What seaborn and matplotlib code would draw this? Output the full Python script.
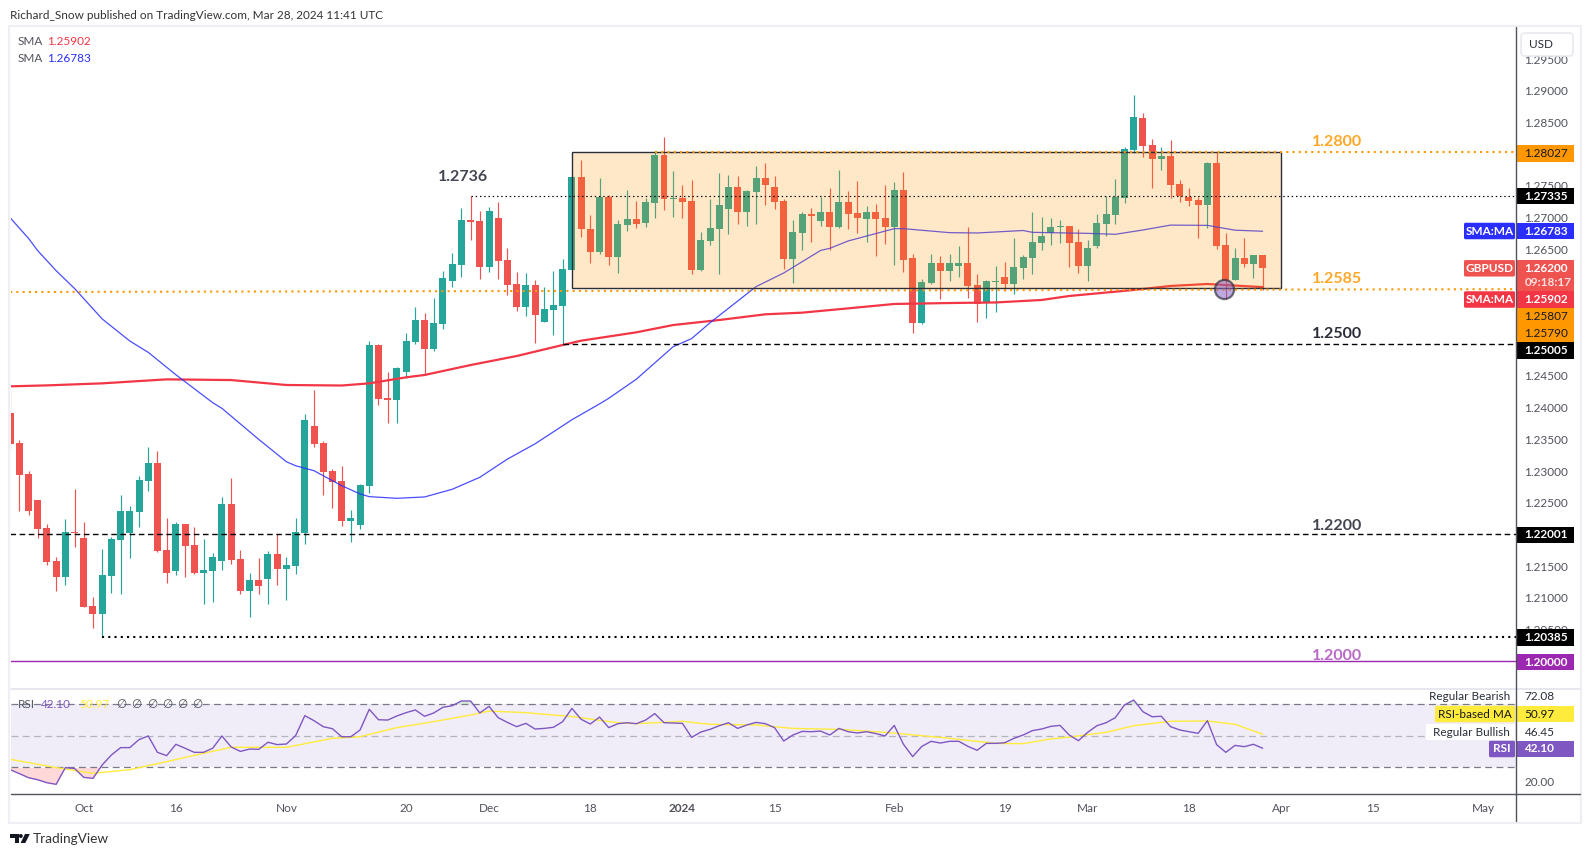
import numpy as np
import pandas as pd
import matplotlib
matplotlib.use("Agg")
import matplotlib.pyplot as plt
from matplotlib.patches import Rectangle, FancyBboxPatch, Polygon, Circle
import seaborn as sns

sns.set_theme(style="white")
plt.rcParams['font.family'] = ['Lato', 'DejaVu Sans']

# ---------------- data ----------------
first_bar = -1
opens = [
 1.23916,1.23443,1.22954,1.22544,1.22102,1.21581,1.21329,1.22039,1.21944,1.20872,
 1.20745,1.21345,1.21913,1.22023,1.22354,1.22843,1.23127,1.21755,1.21424,1.22165,
 1.21834,1.21392,1.21424,1.21581,1.22481,1.21613,1.21108,1.21282,1.21297,1.21692,
 1.21455,1.21503,1.22023,1.23711,1.23443,1.23001,1.22843,1.22212,1.22149,1.22764,
 1.24989,1.24153,1.24121,1.24563,1.25036,1.25383,1.24926,1.25320,1.25998,1.26251,
 1.26961,1.26945,1.26219,1.26992,1.26330,1.25951,1.25588,1.25935,1.25352,1.25541,
 1.25604,1.26172,1.27639,1.26819,1.26456,1.27323,1.26377,1.26882,1.26976,1.26913,
 1.27229,1.27986,1.27292,1.27308,1.27260,1.26172,1.26629,1.26819,1.27134,1.27481,
 1.27087,1.27402,1.27623,1.27481,1.27260,1.26345,1.26756,1.27055,1.26945,1.27087,
 1.26850,1.27245,1.27071,1.26976,1.27087,1.26992,1.26850,1.27434,1.26361,1.25336,
 1.25967,1.26282,1.26156,1.26235,1.26282,1.25935,1.25651,1.25983,1.26061,1.25951,
 1.26203,1.26361,1.26598,1.26756,1.26850,1.26866,1.26614,1.26235,1.26551,1.26898,
 1.27040,1.27308,1.28065,1.28570,1.28144,1.27923,1.27970,1.27529,1.27323,1.27276,
 1.27197,1.27860,1.26566,1.26014,1.26361,1.26267,1.26409]
closes = [
 1.23427,1.22938,1.22370,1.22086,1.21566,1.21329,1.22039,1.22023,1.20856,1.20745,
 1.21361,1.21928,1.22370,1.22370,1.22859,1.23127,1.21739,1.21392,1.22165,1.21818,
 1.21392,1.21439,1.21645,1.22481,1.21597,1.21108,1.21282,1.21187,1.21692,1.21455,
 1.21518,1.22039,1.23806,1.23427,1.22985,1.22828,1.22212,1.22260,1.22780,1.24989,
 1.24137,1.24121,1.24626,1.25052,1.25383,1.24926,1.25336,1.26046,1.26267,1.26961,
 1.26929,1.26219,1.27103,1.26314,1.25935,1.25588,1.25935,1.25462,1.25557,1.25620,
 1.26188,1.27639,1.26819,1.26456,1.27323,1.26377,1.26898,1.26976,1.26898,1.27245,
 1.27986,1.27292,1.27308,1.27245,1.26172,1.26645,1.26834,1.27197,1.27481,1.27087,
 1.27418,1.27623,1.27513,1.27245,1.26345,1.26771,1.27055,1.27024,1.27087,1.26850,
 1.27245,1.27055,1.26992,1.27087,1.26976,1.26850,1.27434,1.26330,1.25336,1.25983,
 1.26282,1.26156,1.26282,1.26282,1.25920,1.25636,1.25998,1.25998,1.25951,1.26219,
 1.26377,1.26614,1.26708,1.26850,1.26866,1.26598,1.26235,1.26519,1.26913,1.27055,
 1.27323,1.28081,1.28585,1.28128,1.27923,1.27970,1.27513,1.27339,1.27260,1.27197,
 1.27860,1.26551,1.25998,1.26361,1.26267,1.26409,1.26200]
highs = [
 1.24250,1.23490,1.23001,1.22544,1.22165,1.21645,1.22244,1.22717,1.22197,1.21014,
 1.21771,1.21960,1.22623,1.22449,1.22922,1.23380,1.23317,1.22260,1.22197,1.22165,
 1.22118,1.21928,1.21708,1.22591,1.22891,1.21755,1.21392,1.21629,1.21739,1.22002,
 1.21645,1.22260,1.23900,1.24279,1.23474,1.23033,1.23080,1.22386,1.22796,1.25052,
 1.25005,1.24563,1.24642,1.25178,1.25588,1.25494,1.25730,1.26156,1.26440,1.27150,
 1.27334,1.27103,1.27166,1.27245,1.26519,1.26140,1.26125,1.26014,1.25904,1.26156,
 1.26345,1.27639,1.27907,1.27039,1.27623,1.27355,1.26961,1.27434,1.27260,1.27308,
 1.28028,1.28270,1.27734,1.27513,1.27592,1.26771,1.27292,1.27702,1.27670,1.27655,
 1.27434,1.27812,1.27860,1.27655,1.27292,1.26961,1.27087,1.27150,1.27323,1.27465,
 1.27749,1.27418,1.27576,1.27181,1.27213,1.27513,1.27560,1.27718,1.26424,1.26030,
 1.26424,1.26393,1.26424,1.26550,1.26850,1.26109,1.26014,1.26235,1.26298,1.26677,
 1.26409,1.27087,1.27008,1.26992,1.26961,1.26866,1.26819,1.26645,1.27055,1.27339,
 1.27607,1.28112,1.28932,1.28648,1.28238,1.28112,1.28223,1.27592,1.27465,1.27323,
 1.27876,1.28028,1.26756,1.26519,1.26677,1.26409,1.26409]
lows = [
 1.23322,1.22370,1.22307,1.21944,1.21518,1.21108,1.21203,1.21802,1.20856,1.20525,
 1.20383,1.21077,1.21061,1.21629,1.22118,1.22686,1.21723,1.21234,1.21361,1.21329,
 1.21376,1.20903,1.20935,1.21439,1.21534,1.21061,1.20698,1.21061,1.20903,1.21203,
 1.20966,1.21376,1.21850,1.23380,1.22623,1.22417,1.22134,1.21881,1.22086,1.22654,
 1.24047,1.23763,1.23754,1.24474,1.25005,1.24516,1.24894,1.25241,1.25904,1.26061,
 1.26645,1.26030,1.26140,1.26030,1.25778,1.25525,1.25446,1.25020,1.25352,1.25147,
 1.24989,1.26172,1.26692,1.26282,1.26424,1.26251,1.26125,1.26787,1.26834,1.26850,
 1.26992,1.27118,1.27008,1.26992,1.26109,1.26156,1.26566,1.26109,1.26740,1.26898,
 1.26866,1.26898,1.27197,1.27134,1.26188,1.25967,1.26487,1.26614,1.26866,1.26487,
 1.26834,1.26819,1.26756,1.26614,1.26393,1.26582,1.26251,1.26140,1.25178,1.25320,
 1.25951,1.25714,1.25998,1.26061,1.25730,1.25352,1.25415,1.25509,1.25841,1.25793,
 1.26030,1.26109,1.26487,1.26566,1.26598,1.26219,1.26125,1.25998,1.26519,1.26708,
 1.26898,1.27229,1.28018,1.27954,1.27465,1.27749,1.27308,1.27245,1.27181,1.26677,
 1.26834,1.26503,1.25714,1.26014,1.26219,1.26046,1.25856]

sma200_bars = [-1,3,9,16,23,29,35,38,42,44,49,54,59,61,67,71,76,81,85,90,95,101,106,111,114,121,125,129,135]
sma200_vals = [1.24337,1.24352,1.24384,1.24447,1.24436,1.24358,1.24350,1.24384,1.24479,1.24516,1.24673,
               1.24815,1.24989,1.25057,1.25189,1.25304,1.25383,1.25473,1.25499,1.25567,1.25636,1.25651,
               1.25660,1.25699,1.25762,1.25857,1.25920,1.25951,1.25902]
sma50_bars = [-1,1,2,4,6,9,12,14,17,21,22,26,29,30,32,35,37,38,41,44,47,50,53,56,60,63,64,67,71,73,75,
              80,83,87,88,90,92,95,96,101,104,109,110,116,119,122,125,129,132,135]
sma50_vals = [1.26997,1.26671,1.26477,1.26161,1.25880,1.25400,1.25052,1.24873,1.24520,1.24079,1.23990,
              1.23500,1.23148,1.23085,1.23006,1.22770,1.22640,1.22597,1.22571,1.22592,1.22713,1.22902,
              1.23190,1.23430,1.23810,1.24060,1.24148,1.24450,1.24963,1.25090,1.25340,1.25910,1.26125,
              1.26480,1.26514,1.26630,1.26708,1.26824,1.26824,1.26761,1.26756,1.26795,1.26766,1.26750,
              1.26735,1.26803,1.26880,1.26876,1.26800,1.26783]

rsi_vals = [
 28.5,26.0,23.4,22.1,20.2,19.2,29.8,29.2,23.6,23.0,
 31.5,37.8,42.5,42.5,47.6,49.9,39.5,37.4,44.6,42.1,
 39.5,39.5,42.1,49.9,42.9,40.1,41.6,41.4,45.9,44.4,
 44.8,50.1,62.8,59.6,55.8,54.5,49.4,49.4,53.7,66.8,
 60.2,60.0,62.6,64.7,66.4,62.4,64.5,68.1,69.1,72.1,
 72.1,64.5,68.7,61.5,58.5,55.8,57.9,54.3,54.7,55.4,
 59.0,67.4,60.5,57.5,61.9,55.2,57.7,58.3,57.7,60.0,
 64.1,58.3,58.1,57.9,49.0,52.4,54.1,56.4,58.3,54.7,
 56.9,58.5,57.7,55.2,46.7,50.5,52.8,52.6,53.0,50.5,
 54.7,52.6,51.8,52.6,51.4,49.9,56.6,44.6,36.8,43.3,
 46.5,45.4,46.5,46.5,43.3,40.8,45.2,45.2,45.6,48.4,
 50.5,53.3,54.3,56.0,56.6,50.5,46.9,52.2,56.4,58.3,
 61.5,69.6,72.7,65.3,62.1,62.4,55.8,53.7,52.6,51.6,
 59.6,44.4,39.5,43.9,43.1,44.6,42.1]
rsi_ma_bars = [-1,4,8,12,16,20,23,29,34,37,41,45,49,51,55,60,65,67,72,75,80,84,89,94,100,106,109,112,114,118,121,125,129,132,135]
rsi_ma_vals = [35.1,29.8,26.2,28.5,33.6,38.9,42.7,42.7,48.4,49.4,55.2,59.0,63.2,65.7,64.7,62.2,58.3,57.7,
               59.2,57.3,56.9,54.7,54.1,52.2,49.0,45.2,45.0,48.0,49.2,52.2,56.4,59.2,59.4,57.3,50.97]

box_bars = [60, 137]
box_prices = [1.25885, 1.28027]
res_1280 = (69, 1.28027)
res_1273 = (49, 1.27335)
sup_1250 = (59, 1.25005)
sup_1220 = (-1, 1.22001)
sup_1203 = (9, 1.20385)
sup_1200 = (-1, 1.20000)
sup_1258 = ([-1, 163], [1.25825, 1.25870])
touch_point = (130.8, 1.25870)

price_ticks = [1.205,1.21,1.215,1.225,1.23,1.235,1.24,1.245,1.265,1.27,1.275,1.285,1.29,1.295]
time_bars = [7,17,29,42,51,62,72,82,95,107,116,127,137,147,159]
time_labels = ['Oct','16','Nov','20','Dec','18','2024','15','Feb','19','Mar','18','Apr','15','May']

UP, DOWN = '#26a69a', '#ef5350'
ORANGE = '#ff9800'
BLUE = '#2a2eff'
RED = '#f23645'
PURPLE = '#7e57c2'
YELLOW = '#ffeb3b'
TXT = '#50535e'
DARK = '#2a2e39'
FS = 8.5

# ---------------- layout ----------------
W, H = 1590, 857
fig = plt.figure(figsize=(W/100, H/100), dpi=100, facecolor='white')
L, R, T, MID, BOT = 10.5, 1516.0, 27.0, 689.3, 794.3
ax = fig.add_axes([L/W, 1-MID/H, (R-L)/W, (MID-T)/H])
rx = fig.add_axes([L/W, 1-BOT/H, (R-L)/W, (BOT-MID)/H], sharex=ax)

bars = np.arange(first_bar, first_bar+len(opens))
o, h, l, c = map(np.array, (opens, highs, lows, closes))
cols = np.where(c >= o, UP, DOWN)

# candles
ax.vlines(bars, l, h, colors=cols, linewidth=0.85, zorder=2)
ax.bar(bars, np.abs(c-o), bottom=np.minimum(o, c), width=0.76, color=cols, linewidth=0, zorder=2)

# moving averages
sns.lineplot(x=sma200_bars, y=sma200_vals, ax=ax, color=RED, linewidth=1.6, zorder=2.5)
sns.lineplot(x=sma50_bars, y=sma50_vals, ax=ax, color=BLUE, linewidth=0.9, alpha=0.85, zorder=2.5)

# range box
ax.add_patch(Rectangle((box_bars[0], box_prices[0]), box_bars[1]-box_bars[0], box_prices[1]-box_prices[0],
                       facecolor=(1, 0.596, 0, 0.22), edgecolor=DARK, linewidth=1.0, zorder=3))

# levels
xr = 163
ax.plot([res_1280[0], xr], [res_1280[1]]*2, color=ORANGE, lw=1.5, ls=(0, (1, 2)), zorder=4)
ax.plot([res_1273[0], xr], [res_1273[1]]*2, color='black', lw=0.85, ls=(0, (1.2, 2.4)), zorder=4)
ax.plot(sup_1258[0], sup_1258[1], color=ORANGE, lw=1.5, ls=(0, (1, 2)), zorder=4)
ax.plot([sup_1250[0], xr], [sup_1250[1]]*2, color='black', lw=1.0, ls=(0, (4, 2.6)), zorder=4)
ax.plot([sup_1220[0], xr], [sup_1220[1]]*2, color='black', lw=1.0, ls=(0, (4, 2.6)), zorder=4)
ax.plot([sup_1203[0], xr], [sup_1203[1]]*2, color='black', lw=1.5, ls=(0, (1, 2)), zorder=4)
ax.plot([sup_1200[0], xr], [sup_1200[1]]*2, color='#9c27b0', lw=1.0, zorder=4)
ax.scatter([touch_point[0]], [touch_point[1]], s=190, facecolor=(0.49, 0.34, 0.76, 0.5),
           edgecolor=(0.2, 0.2, 0.25, 0.7), linewidth=1.6, zorder=5)

ax.set_xlim((L-19.3)/9.21, (R-19.3)/9.21)
ax.set_ylim(1.2+(661.3-MID)/6340, 1.2+(661.3-T)/6340)
ax.set_yticks(price_ticks)
ax.set_yticklabels([f'{p:.5f}' for p in price_ticks])
ax.yaxis.tick_right()
ax.tick_params(axis='y', length=0, pad=5.8, labelsize=FS, labelcolor=TXT)
ax.tick_params(axis='x', length=0, labelbottom=False)
for s in ax.spines.values():
    s.set_visible(False)

# RSI pane
rsi = np.array(rsi_vals)
rx.axhspan(30, 70, color=PURPLE, alpha=0.1, linewidth=0, zorder=1)
rx.fill_between(bars, rsi, 30, where=rsi < 30, interpolate=True, color='#ff5252', alpha=0.22, linewidth=0, zorder=1.5)
rx.fill_between(bars, rsi, 70, where=rsi > 70, interpolate=True, color='#4caf50', alpha=0.22, linewidth=0, zorder=1.5)
for lev, col in ((70, '#787b86'), (50, '#b2b5be'), (30, '#787b86')):
    rx.axhline(lev, color=col, lw=0.9, ls=(0, (5.5, 3.5)), zorder=2)
sns.lineplot(x=rsi_ma_bars, y=rsi_ma_vals, ax=rx, color=YELLOW, linewidth=1.0, zorder=3)
sns.lineplot(x=bars, y=rsi, ax=rx, color=PURPLE, linewidth=1.0, zorder=4)
rx.set_ylim(70-(BOT-704.3)/1.575, 70+(704.3-MID)/1.575)
rx.set_yticks([])
rx.set_xticks(time_bars)
rx.set_xticklabels(time_labels)
rx.tick_params(axis='x', length=0, pad=6, labelsize=FS, labelcolor=TXT)
for t in rx.get_xticklabels():
    if t.get_text() == '2024':
        t.set_fontweight('bold')
for s in rx.spines.values():
    s.set_visible(False)

# ---------------- chrome, tags and text (figure pixels) ----------------
ov = fig.add_axes([0, 0, 1, 1], zorder=10)
ov.set_xlim(0, W); ov.set_ylim(H, 0); ov.axis('off')
ov.patch.set_alpha(0)

FRAME = '#eeeef4'
ov.add_patch(Rectangle((9, 25.5), 1572, 797, fill=False, edgecolor=FRAME, linewidth=1.6))
ov.plot([L, 1580], [MID, MID], color='#e3e3ec', lw=1.2)
ov.plot([L, 1580], [BOT, BOT], color=TXT, lw=1.0)
ov.plot([R, R], [27, 821], color=TXT, lw=1.0)

ov.add_patch(FancyBboxPatch((1521, 33), 52, 23, boxstyle='round,pad=0,rounding_size=4',
                            facecolor='white', edgecolor='#e8e8ef', linewidth=1.2))
ov.text(1529, 44.5, 'USD', fontsize=FS, color=DARK, va='center', ha='left')


def tag(yc, text, bg, fg='white', weight='bold', h=16.5):
    ov.add_patch(Rectangle((R+0.5, yc-h/2), 57, h, facecolor=bg, edgecolor='none'))
    ov.text(1524.5, yc, text, color=fg, fontsize=FS, fontweight=weight, va='center', ha='left')


def side(yc, text, bg, fg='white', x0=1464, weight='bold', h=16.5):
    ov.add_patch(FancyBboxPatch((x0, yc-h/2), 1515-x0, h, boxstyle='round,pad=0,rounding_size=1.5',
                                facecolor=bg, edgecolor='none'))
    ov.text((x0+1515)/2, yc, text, color=fg, fontsize=FS, fontweight=weight, va='center', ha='center')


tag(153.3, '1.28027', ORANGE, fg='#131722', weight='normal')
tag(196, '1.27335', 'black')
tag(231, '1.26783', BLUE)
side(231, 'SMA:MA', BLUE)
ov.add_patch(Rectangle((R+0.5, 260), 57, 31, facecolor=DOWN, edgecolor='none'))
ov.text(1524.5, 268.3, '1.26200', color='white', fontsize=FS, fontweight='bold', va='center')
ov.text(1524.5, 282, '09:18:17', color='#fde0df', fontsize=FS, fontweight='bold', va='center')
side(268.3, 'GBPUSD', DOWN)
tag(299.5, '1.25902', RED)
side(299.5, 'SMA:MA', RED)
tag(316.2, '1.25807', ORANGE, fg='#131722', weight='normal', h=17)
tag(333.4, '1.25790', ORANGE, fg='#131722', weight='normal', h=17)
tag(350.5, '1.25005', 'black')
tag(535, '1.22001', 'black')
tag(637.5, '1.20385', 'black')
tag(662, '1.20000', '#9c27b0')

# RSI side labels
ov.text(1524.5, 697, '72.08', color=DARK, fontsize=FS, va='center')
tag(714, '50.97', YELLOW, fg='#131722', weight='normal')
ov.text(1524.5, 732, '46.45', color=DARK, fontsize=FS, va='center')
tag(749, '42.10', PURPLE)
ov.text(1524.5, 782, '20.00', color=TXT, fontsize=FS, va='center')
ov.text(1510, 697, 'Regular Bearish', color=DARK, fontsize=FS, va='center', ha='right')
side(714, 'RSI-based MA', YELLOW, fg='#131722', x0=1435, weight='normal')
ov.add_patch(Rectangle((1426, 723.5), 89, 16.5, facecolor='white', edgecolor='none'))
ov.text(1510, 732, 'Regular Bullish', color=DARK, fontsize=FS, va='center', ha='right')
side(749, 'RSI', PURPLE, x0=1489)

# annotations on the chart
big = dict(fontsize=11.5, fontweight='bold', va='center', ha='left')
ov.text(437.5, 177, '1.2736', color='#434651', **big)
ov.text(1311.5, 142, '1.2800', color='#ffa726', **big)
ov.text(1311.5, 279, '1.2585', color='#ffa726', **big)
ov.text(1311.5, 334, '1.2500', color='#2a2e39', **big)
ov.text(1311.5, 525.5, '1.2200', color='#434651', **big)
ov.text(1311.5, 655.5, '1.2000', color='#ba68c8', **big)

# header and legends
ov.text(10, 15, 'Richard_Snow published on TradingView.com, Mar 28, 2024 11:41 UTC',
        color='#333333', fontsize=FS, va='center')
ov.text(18, 41, 'SMA', color=TXT, fontsize=FS, va='center')
ov.text(47, 41, '1.25902', color=RED, fontsize=FS, va='center')
ov.text(18, 58.5, 'SMA', color=TXT, fontsize=FS, va='center')
ov.text(47, 58.5, '1.26783', color=BLUE, fontsize=FS, va='center')
ov.text(18, 705, 'RSI', color=TXT, fontsize=FS, va='center')
ov.text(41, 705, '42.10', color=PURPLE, fontsize=FS, va='center')
ov.text(79, 705, '50.97', color=YELLOW, fontsize=FS, va='center')
for xp in (116, 131, 147, 162, 177, 192):
    ov.text(xp, 705, '\u2205', color=TXT, fontsize=FS, va='center')

# logo
ov.add_patch(Polygon([(10, 834), (18.5, 834), (18.5, 843), (14.5, 843), (14.5, 838), (10, 838)], color='#131722', lw=0))
ov.add_patch(Circle((20.8, 836), 2.0, color='#131722', lw=0))
ov.add_patch(Polygon([(25, 834), (29.8, 834), (25.3, 843), (20.6, 843)], color='#131722', lw=0))
ov.text(33, 839, 'TradingView', color='#333333', fontsize=9.8, va='center')

fig.savefig('out.png', dpi=100, facecolor='white')
